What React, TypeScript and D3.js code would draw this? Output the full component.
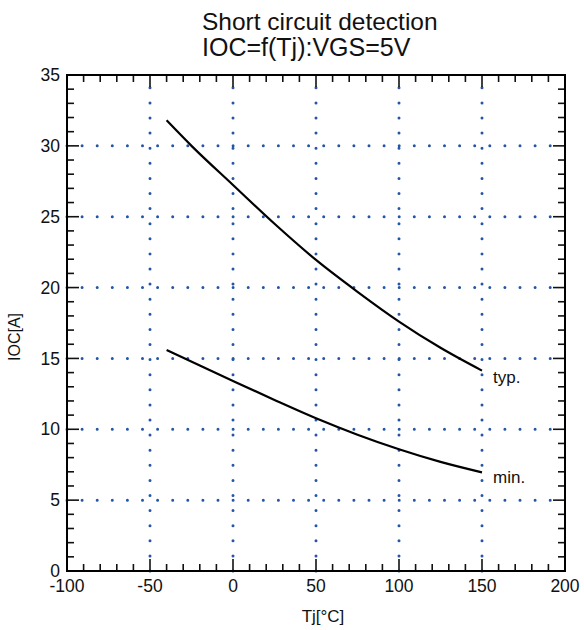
import React from "react";
import * as d3 from "d3";

const title1 = "Short circuit detection";
const title2 = "IOC=f(Tj):VGS=5V";
const xLabel = "Tj[°C]";
const yLabel = "IOC[A]";
const typLabel = "typ.";
const minLabel = "min.";

const tjValues = [-40, -25, 0, 25, 50, 75, 100, 125, 150];
const typValues = [31.8, 30.0, 27.24, 24.5, 21.95, 19.7, 17.6, 15.75, 14.14];
const minTj = [-40, -20, 0, 25, 50, 75, 100, 125, 150];
const minValues = [15.6, 14.5, 13.41, 12.07, 10.78, 9.62, 8.59, 7.7, 6.96];

const xTicks = [-100, -50, 0, 50, 100, 150, 200];
const yTicks = [0, 5, 10, 15, 20, 25, 30, 35];
const xGrid = [-50, 0, 50, 100, 150];
const yGrid = [5, 10, 15, 20, 25, 30];

const W = 584;
const H = 630;
const left = 67;
const right = 565;
const top = 75;
const bottom = 571;

export default function App() {
  const x = d3.scaleLinear().domain([-100, 200]).range([left, right]);
  const y = d3.scaleLinear().domain([0, 35]).range([bottom, top]);

  const typLine = d3
    .line<number>()
    .x((_, i) => x(tjValues[i]))
    .y((d) => y(d))
    .curve(d3.curveMonotoneX);
  const minLine = d3
    .line<number>()
    .x((_, i) => x(minTj[i]))
    .y((d) => y(d))
    .curve(d3.curveMonotoneX);

  const xMinor = d3.range(-100, 201, 10);
  const yMinor = d3.range(0, 36, 1);
  const font = "Liberation Sans, Arial, sans-serif";
  const gridColor = "#2456a8";
  const minorLen = 7;
  const majorLen = 12;

  return (
    <svg
      width={W}
      height={H}
      style={{ position: "absolute", left: 0, top: 0, background: "#fff" }}
      fontFamily={font}
    >
      <rect x={0} y={0} width={W} height={H} fill="#fff" />
      {/* grid */}
      {xGrid.map((v) => (
        <line
          key={"gx" + v}
          x1={x(v)}
          x2={x(v)}
          y1={bottom}
          y2={top}
          stroke={gridColor}
          strokeWidth={3}
          strokeLinecap="round"
          strokeDasharray="0 15.1"
        />
      ))}
      {yGrid.map((v) => (
        <line
          key={"gy" + v}
          x1={left}
          x2={right}
          y1={y(v)}
          y2={y(v)}
          stroke={gridColor}
          strokeWidth={3}
          strokeLinecap="round"
          strokeDasharray="0 15.1"
        />
      ))}
      {/* ticks */}
      {xMinor.map((v) => {
        const len = v % 50 === 0 ? majorLen : minorLen;
        return (
          <g key={"tx" + v} stroke="#111" strokeWidth={1.6}>
            <line x1={x(v)} x2={x(v)} y1={bottom} y2={bottom - len} />
            <line x1={x(v)} x2={x(v)} y1={top} y2={top + len} />
          </g>
        );
      })}
      {yMinor.map((v) => {
        const len = v % 5 === 0 ? majorLen : minorLen;
        return (
          <g key={"ty" + v} stroke="#111" strokeWidth={1.6}>
            <line x1={left} x2={left + len} y1={y(v)} y2={y(v)} />
            <line x1={right} x2={right - len} y1={y(v)} y2={y(v)} />
          </g>
        );
      })}
      {/* frame */}
      <rect
        x={left}
        y={top}
        width={right - left}
        height={bottom - top}
        fill="none"
        stroke="#000"
        strokeWidth={2}
      />
      {/* curves */}
      <path d={typLine(typValues) || ""} fill="none" stroke="#000" strokeWidth={2.2} />
      <path d={minLine(minValues) || ""} fill="none" stroke="#000" strokeWidth={2.2} />
      <text x={493} y={383} fontSize={17} fill="#111">
        {typLabel}
      </text>
      <text x={493} y={483} fontSize={17} fill="#111">
        {minLabel}
      </text>
      {/* tick labels */}
      {xTicks.map((v) => (
        <text
          key={"lx" + v}
          x={x(v)}
          y={592}
          fontSize={17.5}
          textAnchor="middle"
          fill="#111"
        >
          {v}
        </text>
      ))}
      {yTicks.map((v) => (
        <text
          key={"ly" + v}
          x={60}
          y={y(v)}
          dy="0.35em"
          fontSize={17.5}
          textAnchor="end"
          fill="#111"
        >
          {v}
        </text>
      ))}
      {/* axis titles */}
      <text x={323} y={622} fontSize={17} textAnchor="middle" fill="#111">
        {xLabel}
      </text>
      <text
        transform={`translate(20, 337) rotate(-90)`}
        fontSize={16}
        textAnchor="middle"
        fill="#111"
      >
        {yLabel}
      </text>
      <text x={202} y={30} fontSize={24.5} textAnchor="start" fill="#111">
        {title1}
      </text>
      <text x={202} y={56} fontSize={25} textAnchor="start" fill="#111">
        {title2}
      </text>
    </svg>
  );
}
